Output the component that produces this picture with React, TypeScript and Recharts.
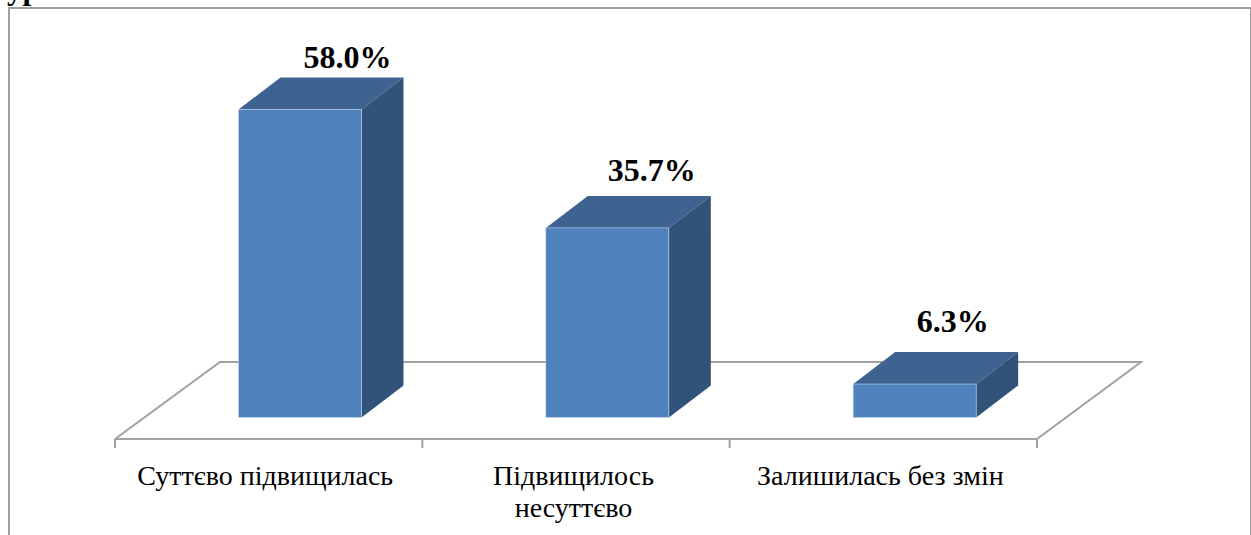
import React from "react";
import { BarChart, Bar, XAxis, YAxis, LabelList, usePlotArea } from "recharts";

const categories = ["Суттєво підвищилась", "Підвищилось|несуттєво", "Залишилась без змін"];
const values = [58.0, 35.7, 6.3];
const data = categories.map((name, i) => ({ name, value: values[i] }));

const SERIF = '"Liberation Serif", "Times New Roman", serif';
const GRID = "#a0a0a0";
const DX = 42;
const DY = 32;
const SHIFT = 31.5;
const LABEL_DX = [47.5, 44.5, 38];
const LABEL_DY = [41, 46.5, 52.5];
const TICK_DX = [-3.5, -2.5, -3];

function Floor() {
  const p = usePlotArea();
  if (!p) return null;
  const bottom = p.y + p.height;
  const left = p.x;
  const right = p.x + p.width;
  const back = bottom - 77;
  const depth = 105;
  const step = p.width / categories.length;
  return (
    <g fill="none" stroke={GRID} strokeWidth={2}>
      <polyline points={`${left},${bottom} ${left + depth},${back} ${right + depth - 1},${back} ${right},${bottom}`} />
      <line x1={left} x2={right} y1={bottom} y2={bottom} />
      {[0, 1, 2, 3].map((i) => (
        <line key={i} x1={left + step * i} x2={left + step * i} y1={bottom} y2={bottom + 9} />
      ))}
    </g>
  );
}

function Box(props: any) {
  const { x, y, width, height } = props;
  const l = x + SHIFT;
  const r = l + width;
  const b = y + height;
  return (
    <g>
      <polygon points={`${l},${y} ${l + DX},${y - DY} ${r + DX},${y - DY} ${r},${y}`} fill="#3F6391" />
      <polygon points={`${r},${y} ${r + DX},${y - DY} ${r + DX},${b - DY} ${r},${b}`} fill="#325379" />
      <rect x={l} y={y} width={width} height={height} fill="#4F81BD" stroke="#C9D8EA" strokeWidth={0.6} />
    </g>
  );
}

function ValueLabel(props: any) {
  const { x, y, width, index, value } = props;
  return (
    <text
      x={x + width / 2 + SHIFT + LABEL_DX[index]}
      y={y - LABEL_DY[index]}
      textAnchor="middle"
      fontFamily={SERIF}
      fontWeight="bold"
      fontSize={32}
      fill="#000"
    >
      {`${Number(value).toFixed(1)}%`}
    </text>
  );
}

function CategoryTick(props: any) {
  const { x, y, payload, index } = props;
  const lines = String(payload.value).split("|");
  return (
    <text textAnchor="middle" fontFamily={SERIF} fontSize={28} fill="#000">
      {lines.map((t: string, i: number) => (
        <tspan key={i} x={x + TICK_DX[index]} y={y + 38 + i * 32}>
          {t}
        </tspan>
      ))}
    </text>
  );
}

export default function App() {
  return (
    <div style={{ position: "absolute", left: 0, top: 0, width: 1251, height: 535, background: "#fff", overflow: "hidden" }}>
      <div style={{ position: "absolute", left: 8, top: 7, width: 1240, height: 540, border: "2px solid #a0a0a0", borderBottom: "none", boxSizing: "content-box" }} />
      <div style={{ position: "absolute", left: 7, top: -27, fontFamily: SERIF, fontWeight: "bold", fontSize: 31, lineHeight: "31px", color: "#000" }}>
        ур
      </div>
      <div style={{ position: "absolute", left: 0, top: 0 }}>
        <BarChart
          width={1251}
          height={535}
          data={data}
          margin={{ top: 8, right: 214, bottom: 0, left: 115 }}
          barCategoryGap="30%"
        >
          <Floor />
          <XAxis dataKey="name" axisLine={false} tickLine={false} interval={0} tick={<CategoryTick />} height={96} />
          <YAxis hide domain={[-4.05, 77.1]} allowDataOverflow />
          <Bar dataKey="value" isAnimationActive={false} shape={<Box />} barSize={123}>
            <LabelList dataKey="value" content={<ValueLabel />} />
          </Bar>
        </BarChart>
      </div>
    </div>
  );
}
